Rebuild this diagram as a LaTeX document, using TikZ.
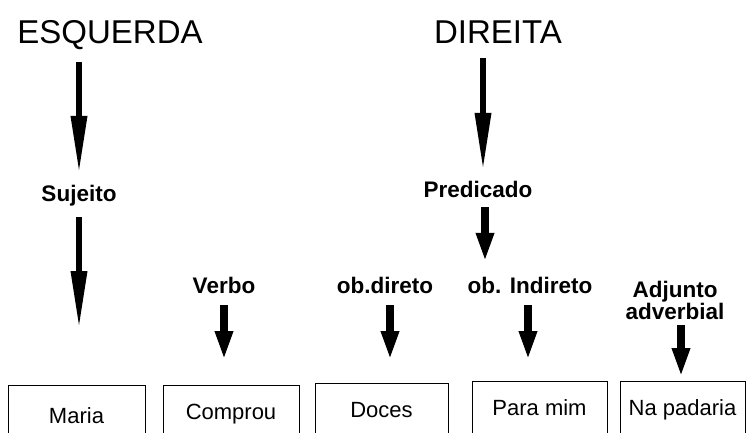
\documentclass[tikz,border=0pt]{standalone}
\usepackage{fontspec}
\setmainfont{Liberation Sans}
\usepackage{tikz}
\usetikzlibrary{arrows.meta,positioning,calc}

\begin{document}
\begin{tikzpicture}[x=1pt,y=-1pt,
	title/.style={inner sep=0,anchor=base,text height=23,text depth=0,font=\fontsize{33}{36}\selectfont},
	label/.style={inner sep=0,anchor=base,text height=15,text depth=0,font=\bfseries\fontsize{22.5}{24}\selectfont},
	box/.style={draw,line width=0.8,anchor=north,inner xsep=0,inner ysep=18,text height=16,text depth=40,font=\fontsize{22}{24}\selectfont},
	longarrow/.style={line width=6.5,-{Triangle[length=59,width=15]}},
	shortarrow/.style={line width=8,-{Triangle[length=29,width=16.5]}}]
	\path[use as bounding box,clip] (0,0) rectangle (747,432);
	
	\node[title](esq) at (110,43){ESQUERDA};
	\node[title](dir) at (498,43){DIREITA};
	\node[label](suj) at (79,201){Sujeito};
	\node[label](pred) at (478,197){Predicado};
	\node[label](verbo) at (224,293){Verbo};
	\node[label](obd) at (385,293){ob.direto};
	\node[label](obi) at (530,293){ob. Indireto};
	\node[inner sep=0,anchor=north,align=center,font=\bfseries\fontsize{22.5}{16}\selectfont](adj) at (675,281){Adjunto\\adverbial};
	
	\node[box,minimum width=137,inner ysep=22](maria) at (76.5,385){Maria};
	\node[box,minimum width=136](comprou) at (231,385){Comprou};
	\node[box,minimum width=133](doces) at (381.5,383){Doces};
	\node[box,minimum width=135](paramim) at (539.5,381){Para mim};
	\node[box,minimum width=125](napadaria) at (682.5,381){Na padaria};
	
	\draw[longarrow,shorten <=19,shorten >=11] (esq.south -| suj.north) -- (suj.north);
	\draw[longarrow,shorten <=16,shorten >=55] (suj.south) -- (suj.south |- maria.north);
	\draw[longarrow,shorten <=15,shorten >=10] ([xshift=5]dir.south -| pred.north) -- ([xshift=5]pred.north);
	\draw[shortarrow,shorten <=10,shorten >=16] ([xshift=7]pred.south) -- ([xshift=7]pred.south |- obi.north);
	\draw[shortarrow,shorten <=12,shorten >=25] (verbo.south) -- (verbo.south |- comprou.north);
	\draw[shortarrow,shorten <=12,shorten >=23] ([xshift=5]obd.south) -- ([xshift=5]obd.south |- doces.north);
	\draw[shortarrow,shorten <=12,shorten >=21] ([xshift=-2]obi.south) -- ([xshift=-2]obi.south |- paramim.north);
	\draw[shortarrow,shorten <=5,shorten >=4] ([xshift=6]adj.south) -- ([xshift=6]adj.south |- napadaria.north);
\end{tikzpicture}
\end{document}
